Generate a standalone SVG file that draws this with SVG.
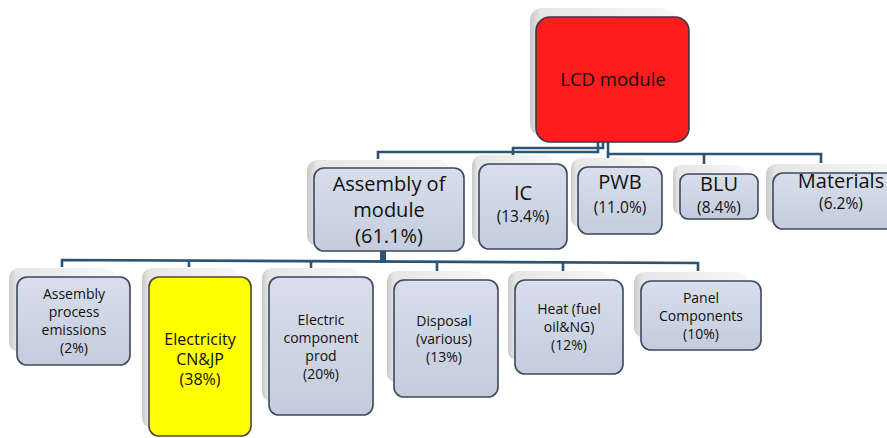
<svg xmlns="http://www.w3.org/2000/svg" width="887" height="438" viewBox="0 0 887 438">
<defs>
<linearGradient id="gBox" x1="0" y1="0" x2="0" y2="1">
<stop offset="0" stop-color="#d8deeb"/>
<stop offset="1" stop-color="#c4ccdd"/>
</linearGradient>
<linearGradient id="gSh" x1="0" y1="0" x2="1" y2="0">
<stop offset="0" stop-color="#c9c9c9"/>
<stop offset="0.07" stop-color="#e6e6e6"/>
<stop offset="1" stop-color="#f7f7f7"/>
</linearGradient>
</defs>
<style>
.sh{fill:url(#gSh);}
.bx{fill:url(#gBox);stroke:#3b4a5e;stroke-width:1.6;}
.red{fill:#ff1c1c;stroke:#3a3a48;stroke-width:1.6;}
.yel{fill:#ffff00;stroke:#4a4a3a;stroke-width:1.6;}
text{font-family:"Open Sans","Noto Sans","DejaVu Sans",sans-serif;fill:#111;text-anchor:middle;}
.t20{font-size:20px;}
.t18{font-size:18.5px;}
.p15{font-size:15.5px;}
.t14{font-size:14px;}
.t16{font-size:16px;}
.con{fill:none;stroke:#2b5372;stroke-width:2.6;}
</style>

<g id="connectors">
<path class="con" d="M598,142 V152 H378 V159"/>
<path class="con" d="M603,142 V148 H513 V155"/>
<path class="con" d="M608,142 V163"/>
<path class="con" d="M608,154 H821 V163"/>
<path class="con" d="M704,154 V164"/>
<path d="M598,133 V142 M603,133 V142 M608,133 V142" stroke="#a01818" stroke-width="2" fill="none"/>
<path class="con" d="M62,267 V260 L698,263 V271"/>
<path class="con" d="M189,260.6 V267"/>
<path class="con" d="M311,261.2 V268"/>
<path class="con" d="M437,261.8 V271"/>
<path class="con" d="M563,262.4 V271"/>
<rect x="380" y="250" width="6" height="13" fill="#2b5372"/>
</g>

<g id="lcd-module">
<rect class="sh" x="530" y="8" width="145" height="128" rx="12"/>
<rect class="red" x="536" y="17" width="153" height="125" rx="14"/>
<text class="t18" x="613" y="86">LCD module</text>
</g>

<g id="assembly-of-module">
<rect class="sh" x="307" y="160" width="142" height="86" rx="10"/>
<rect class="bx" x="314" y="168" width="150" height="83" rx="10"/>
<text class="t20" x="389" y="191">Assembly of</text>
<text class="t20" x="389" y="217">module</text>
<text class="t20" x="389" y="243">(61.1%)</text>
</g>

<g id="ic">
<rect class="sh" x="472" y="155" width="82" height="88" rx="10"/>
<rect class="bx" x="479" y="164" width="88" height="85" rx="10"/>
<text class="t20" x="523" y="200">IC</text>
<text class="p15" x="523" y="222">(13.4%)</text>
</g>

<g id="pwb">
<rect class="sh" x="571" y="158" width="78" height="70" rx="10"/>
<rect class="bx" x="578" y="167" width="84" height="67" rx="10"/>
<text class="t20" x="620" y="189">PWB</text>
<text class="p15" x="620" y="213">(11.0%)</text>
</g>

<g id="blu">
<rect class="sh" x="673" y="165" width="72" height="50" rx="8"/>
<rect class="bx" x="680" y="174" width="78" height="45" rx="8"/>
<text class="t20" x="719" y="191">BLU</text>
<text class="p15" x="719" y="213">(8.4%)</text>
</g>

<g id="materials">
<rect class="sh" x="766" y="164" width="140" height="60" rx="10"/>
<rect class="bx" x="773" y="173" width="137" height="56" rx="10"/>
<text class="t20" x="841" y="188">Materials</text>
<text class="p15" x="841" y="209">(6.2%)</text>
</g>

<g id="assembly-process-emissions">
<rect class="sh" x="9" y="268" width="107" height="84" rx="10"/>
<rect class="bx" x="17" y="277" width="113" height="88" rx="10"/>
<text class="t14" x="74" y="299">Assembly</text>
<text class="t14" x="74" y="317">process</text>
<text class="t14" x="74" y="335">emissions</text>
<text class="t14" x="74" y="353">(2%)</text>
</g>

<g id="electricity">
<rect class="sh" x="142" y="268" width="96" height="160" rx="10"/>
<rect class="yel" x="149" y="277" width="102" height="159" rx="10"/>
<text class="t16" x="200" y="345">Electricity</text>
<text class="t16" x="200" y="365">CN&amp;JP</text>
<text class="t16" x="200" y="385">(38%)</text>
</g>

<g id="electric-component-prod">
<rect class="sh" x="262" y="268" width="98" height="134" rx="10"/>
<rect class="bx" x="269" y="277" width="104" height="138" rx="10"/>
<text class="t14" x="321" y="325">Electric</text>
<text class="t14" x="321" y="343">component</text>
<text class="t14" x="321" y="361">prod</text>
<text class="t14" x="321" y="379">(20%)</text>
</g>

<g id="disposal">
<rect class="sh" x="387" y="271" width="98" height="112" rx="10"/>
<rect class="bx" x="394" y="280" width="104" height="117" rx="10"/>
<text class="t14" x="444" y="326">Disposal</text>
<text class="t14" x="444" y="344">(various)</text>
<text class="t14" x="444" y="362">(13%)</text>
</g>

<g id="heat">
<rect class="sh" x="508" y="271" width="102" height="90" rx="10"/>
<rect class="bx" x="515" y="280" width="108" height="94" rx="10"/>
<text class="t14" x="569" y="314">Heat (fuel</text>
<text class="t14" x="569" y="332">oil&amp;NG)</text>
<text class="t14" x="569" y="350">(12%)</text>
</g>

<g id="panel-components">
<rect class="sh" x="634" y="272" width="114" height="66" rx="10"/>
<rect class="bx" x="641" y="281" width="120" height="69" rx="10"/>
<text class="t14" x="701" y="303">Panel</text>
<text class="t14" x="701" y="321">Components</text>
<text class="t14" x="701" y="339">(10%)</text>
</g>
</svg>
